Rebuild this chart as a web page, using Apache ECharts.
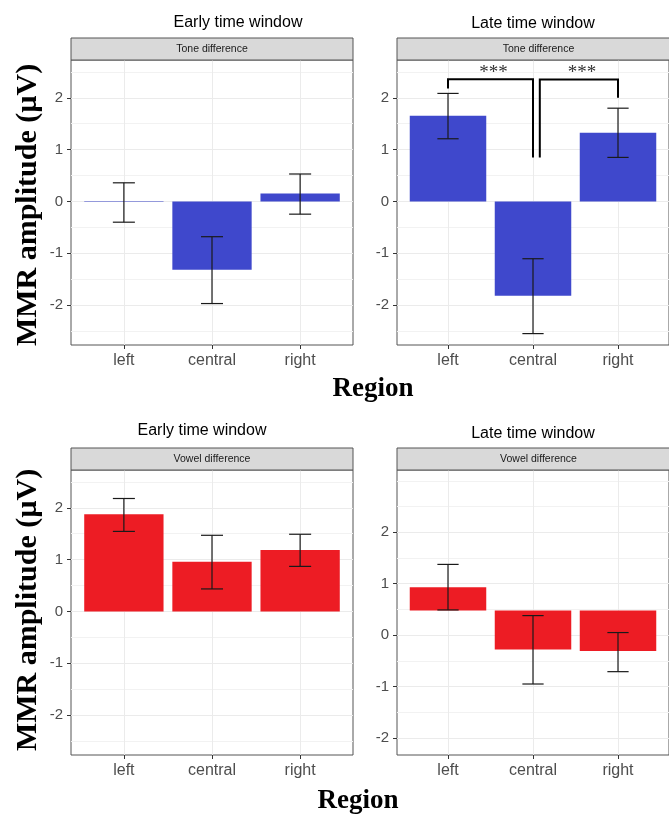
<!DOCTYPE html>
<html>
<head>
<meta charset="utf-8">
<script src="https://cdn.jsdelivr.net/npm/echarts@6/dist/echarts.min.js"></script>
<style>
  html, body { margin: 0; padding: 0; background: #fff; }
  #chart { width: 669px; height: 814px; }
</style>
</head>
<body>
<div id="chart"></div>
<script>
// Regions along the x axis
const regions = ['left', 'central', 'right'];

// MMR amplitude (µV): bar value and error-bar limits per region
const earlyToneMean = [0.01, -1.32, 0.155];
const earlyToneLow  = [-0.40, -1.97, -0.245];
const earlyToneHigh = [0.36, -0.68, 0.53];

const lateToneMean = [1.655, -1.82, 1.325];
const lateToneLow  = [1.21, -2.55, 0.85];
const lateToneHigh = [2.085, -1.105, 1.80];

const earlyVowelMean = [1.877, 0.96, 1.185];
const earlyVowelLow  = [1.545, 0.435, 0.87];
const earlyVowelHigh = [2.18, 1.47, 1.49];

const lateVowelMean = [0.93, -0.28, -0.31];
const lateVowelLow  = [0.49, -0.95, -0.71];
const lateVowelHigh = [1.375, 0.38, 0.05];
const lateVowelBase = 0.48;   // bars in this panel start from this level

// Significance brackets (late window, tone): [x from, x to, top, left leg end, right leg end]
const lateToneBrackets = [
  [1, 2.0, 2.36, 2.18, 0.85],
  [2.08, 3, 2.355, 0.85, 2.0]
];
const sigLabel = '***';

// Y tick labels
const yTickLabels = [-2, -1, 0, 1, 2];

const SANS = "'Liberation Sans', Arial, sans-serif";
const SERIF = "'Liberation Serif', 'Times New Roman', serif";
const BLUE = '#3f48cc';
const RED = '#ed1c24';

const panels = [
  { title: 'Early time window', strip: 'Tone difference', mean: earlyToneMean, low: earlyToneLow, high: earlyToneHigh,
    base: 0, color: BLUE, box: [71, 60, 282, 285], yRange: [-2.77, 2.73], majors: [-2, -1, 0, 1, 2],
    minors: [-2.5, -1.5, -0.5, 0.5, 1.5, 2.5], titlePos: [238, 23] },
  { title: 'Late time window', strip: 'Tone difference', mean: lateToneMean, low: lateToneLow, high: lateToneHigh,
    base: 0, color: BLUE, box: [397, 60, 283, 285], yRange: [-2.77, 2.73], majors: [-2, -1, 0, 1, 2],
    minors: [-2.5, -1.5, -0.5, 0.5, 1.5, 2.5], titlePos: [533, 24], brackets: lateToneBrackets },
  { title: 'Early time window', strip: 'Vowel difference', mean: earlyVowelMean, low: earlyVowelLow, high: earlyVowelHigh,
    base: 0, color: RED, box: [71, 470, 282, 285], yRange: [-2.77, 2.73], majors: [-2, -1, 0, 1, 2],
    minors: [-2.5, -1.5, -0.5, 0.5, 1.5, 2.5], titlePos: [202, 431] },
  { title: 'Late time window', strip: 'Vowel difference', mean: lateVowelMean, low: lateVowelLow, high: lateVowelHigh,
    base: lateVowelBase, color: RED, box: [397, 470, 283, 285], yRange: [-2.33, 3.21], majors: [-2, -1, 0, 1, 2],
    minors: [-1.5, -0.5, 0.5, 1.5, 2.5, 3], titlePos: [533, 434] }
];

function barRenderer(color) {
  return function (params, api) {
    const x = api.value(0), base = api.value(1), m = api.value(2), lo = api.value(3), hi = api.value(4);
    const p0 = api.coord([x - 0.45, base]);
    const p1 = api.coord([x + 0.45, m]);
    const e0 = api.coord([x, lo]);
    const e1 = api.coord([x, hi]);
    const cl = api.coord([x - 0.125, base])[0];
    const cr = api.coord([x + 0.125, base])[0];
    const err = { stroke: '#1a1a1a', lineWidth: 1.2 };
    return {
      type: 'group',
      children: [
        { type: 'rect', shape: { x: p0[0], y: Math.min(p0[1], p1[1]), width: p1[0] - p0[0], height: Math.abs(p1[1] - p0[1]) },
          style: { fill: color } },
        { type: 'line', shape: { x1: e0[0], y1: e0[1], x2: e0[0], y2: e1[1] }, style: err },
        { type: 'line', shape: { x1: cl, y1: e0[1], x2: cr, y2: e0[1] }, style: err },
        { type: 'line', shape: { x1: cl, y1: e1[1], x2: cr, y2: e1[1] }, style: err }
      ]
    };
  };
}

function bracketRenderer(params, api) {
  const x1 = api.value(0), x2 = api.value(1), y = api.value(2), l1 = api.value(3), l2 = api.value(4);
  const pts = [api.coord([x1, l1]), api.coord([x1, y]), api.coord([x2, y]), api.coord([x2, l2])];
  const mid = api.coord([(x1 + x2) / 2, y]);
  return {
    type: 'group',
    children: [
      { type: 'polyline', shape: { points: pts }, style: { stroke: '#000', lineWidth: 2, fill: null } },
      { type: 'text', x: mid[0] + 3, y: mid[1] - 6,
        style: { text: sigLabel, font: '19px ' + SERIF, fill: '#333', align: 'center', verticalAlign: 'middle' } }
    ]
  };
}

const grid = [], xAxis = [], yAxis = [], series = [], graphic = [];

panels.forEach((p, i) => {
  const [left, top, width, height] = p.box;
  grid.push({ left, top, width, height, show: true, borderColor: '#555', borderWidth: 1, backgroundColor: '#fff', containLabel: false });
  xAxis.push({
    gridIndex: i, type: 'value', min: 0.4, max: 3.6,
    axisLine: { show: false, onZero: false },
    axisTick: { show: true, length: 4, customValues: [1, 2, 3], lineStyle: { color: '#333' } },
    axisLabel: { customValues: [1, 2, 3], formatter: v => regions[Math.round(v) - 1], color: '#4d4d4d',
      fontFamily: SANS, fontSize: 16, margin: 8 },
    splitLine: { show: true, lineStyle: { color: '#ebebeb', width: 1 } }
  });
  // major axis with labels
  yAxis.push({
    gridIndex: i, type: 'value', min: p.yRange[0], max: p.yRange[1], position: 'left',
    axisLine: { show: false, onZero: false },
    axisTick: { show: true, length: 4, customValues: p.majors, lineStyle: { color: '#333' } },
    axisLabel: { customValues: yTickLabels, formatter: v => String(v), color: '#4d4d4d', fontFamily: SANS, fontSize: 15, margin: 8 },
    splitLine: { show: true, lineStyle: { color: '#ebebeb', width: 1 } }
  });
  // minor grid lines
  yAxis.push({
    gridIndex: i, type: 'value', min: p.yRange[0], max: p.yRange[1], position: 'left',
    axisLine: { show: false, onZero: false },
    axisTick: { show: false, customValues: p.minors },
    axisLabel: { show: false },
    splitLine: { show: true, lineStyle: { color: '#f2f2f2', width: 1 } }
  });
  series.push({
    type: 'custom', xAxisIndex: i, yAxisIndex: i * 2,
    renderItem: barRenderer(p.color),
    data: regions.map((r, k) => [k + 1, p.base, p.mean[k], p.low[k], p.high[k]]),
    z: 3
  });
  if (p.brackets) {
    series.push({ type: 'custom', xAxisIndex: i, yAxisIndex: i * 2, renderItem: bracketRenderer, data: p.brackets, z: 4 });
  }
  // facet strip
  graphic.push({ type: 'rect', shape: { x: left, y: top - 22, width: width, height: 22 },
    style: { fill: '#d9d9d9', stroke: '#555', lineWidth: 1 }, z: 10 });
  graphic.push({ type: 'text', x: left + width / 2, y: top - 11,
    style: { text: p.strip, font: '10.5px ' + SANS, fill: '#1a1a1a', align: 'center', verticalAlign: 'middle' }, z: 11 });
  graphic.push({ type: 'text', x: p.titlePos[0], y: p.titlePos[1],
    style: { text: p.title, font: '16px ' + SANS, fill: '#000', align: 'center', verticalAlign: 'middle' }, z: 11 });
});

// Shared axis titles
[[28, 205], [28, 610]].forEach(([x, y]) => {
  graphic.push({ type: 'text', x, y, rotation: Math.PI / 2,
    style: { text: 'MMR amplitude (µV)', font: 'bold 30px ' + SERIF, fill: '#000', align: 'center', verticalAlign: 'middle' }, z: 11 });
});
[[373, 389], [358, 801]].forEach(([x, y]) => {
  graphic.push({ type: 'text', x, y,
    style: { text: 'Region', font: 'bold 27px ' + SERIF, fill: '#000', align: 'center', verticalAlign: 'middle' }, z: 11 });
});

const chart = echarts.init(document.getElementById('chart'), null, { renderer: 'canvas' });
chart.setOption({ animation: false, grid, xAxis, yAxis, series, graphic });
</script>
</body>
</html>
